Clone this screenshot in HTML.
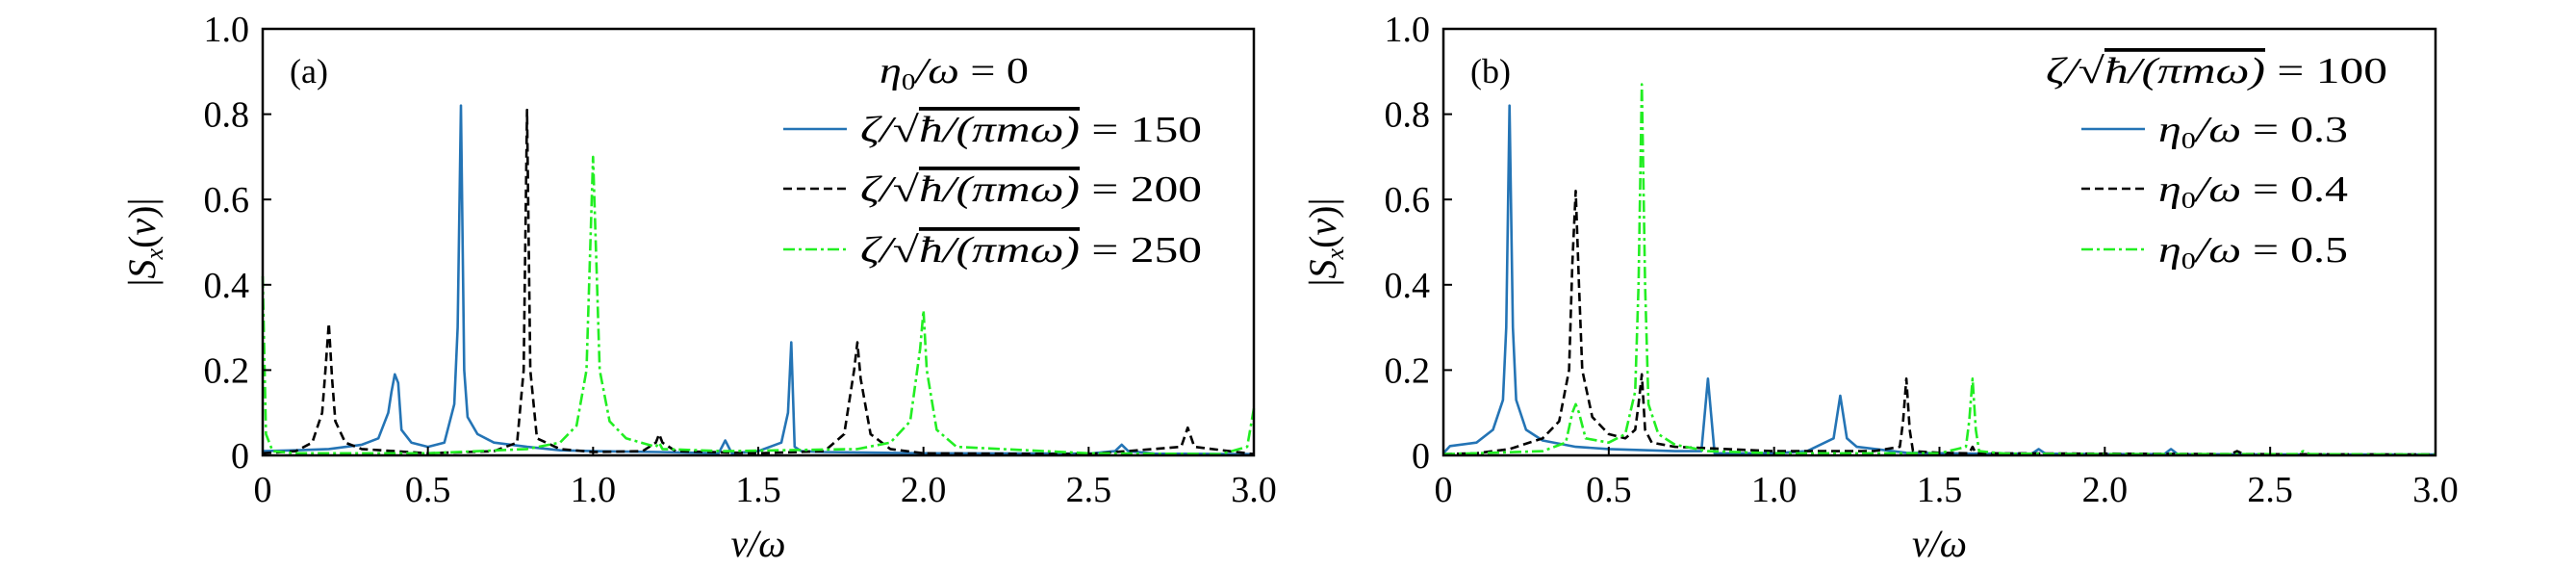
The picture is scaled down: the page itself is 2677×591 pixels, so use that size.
<!DOCTYPE html>
<html><head><meta charset="utf-8"><style>
html,body{margin:0;padding:0;background:#fff;}
svg{display:block;font-family:"Liberation Serif","DejaVu Serif",serif;}
</style></head><body>
<svg id="fig" width="2677" height="591" viewBox="0 0 2677 591" xmlns="http://www.w3.org/2000/svg"></svg>
<script>
// ---- data: panel (a) ----
const xTicks = [0, 0.5, 1.0, 1.5, 2.0, 2.5, 3.0];
const xTickLabels = ["0", "0.5", "1.0", "1.5", "2.0", "2.5", "3.0"];
const yTicks = [0, 0.2, 0.4, 0.6, 0.8, 1.0];
const yTickLabels = ["0", "0.2", "0.4", "0.6", "0.8", "1.0"];

const aBlueX = [0,0.1,0.2,0.3,0.35,0.38,0.39,0.4,0.41,0.42,0.45,0.5,0.55,0.58,0.59,0.6,0.61,0.62,0.65,0.7,0.8,0.9,1.0,1.2,1.38,1.4,1.42,1.5,1.57,1.59,1.6,1.61,1.63,1.7,2.0,2.5,2.58,2.6,2.62,2.7,3.0];
const aBlueY = [0.01,0.012,0.015,0.025,0.04,0.1,0.15,0.19,0.17,0.06,0.03,0.02,0.03,0.12,0.3,0.82,0.2,0.09,0.05,0.03,0.02,0.012,0.01,0.008,0.005,0.035,0.005,0.01,0.03,0.1,0.265,0.02,0.01,0.008,0.005,0.004,0.01,0.025,0.01,0.004,0.003];
const aBlackX = [0,0.1,0.15,0.18,0.19,0.2,0.21,0.22,0.25,0.3,0.5,0.7,0.77,0.79,0.8,0.81,0.83,0.9,1.0,1.15,1.19,1.2,1.21,1.25,1.5,1.7,1.76,1.79,1.8,1.81,1.84,1.9,2.0,2.5,2.78,2.8,2.82,3.0];
const aBlackY = [0.005,0.01,0.03,0.1,0.2,0.31,0.18,0.08,0.03,0.015,0.005,0.01,0.03,0.2,0.81,0.2,0.04,0.015,0.008,0.01,0.03,0.05,0.03,0.01,0.005,0.01,0.05,0.2,0.265,0.18,0.05,0.015,0.005,0.003,0.02,0.065,0.02,0.003];
const aGreenX = [0,0.01,0.03,0.1,0.5,0.8,0.9,0.95,0.98,0.99,1.0,1.01,1.02,1.05,1.1,1.19,1.2,1.21,1.4,1.8,1.9,1.96,1.99,2.0,2.01,2.04,2.1,2.5,2.9,2.98,3.0];
const aGreenY = [0.42,0.05,0.01,0.005,0.005,0.015,0.03,0.07,0.2,0.45,0.70,0.45,0.2,0.08,0.04,0.02,0.03,0.015,0.01,0.015,0.03,0.08,0.25,0.34,0.2,0.06,0.02,0.005,0.003,0.02,0.11];

// ---- data: panel (b) ----
const bBlueX = [0,0.02,0.1,0.15,0.18,0.19,0.2,0.21,0.22,0.25,0.3,0.4,0.5,0.7,0.78,0.8,0.82,1.0,1.1,1.18,1.2,1.22,1.25,1.4,1.6,1.78,1.8,1.82,2.0,2.18,2.2,2.22,2.6,3.0];
const bBlueY = [0.005,0.022,0.03,0.06,0.13,0.3,0.82,0.3,0.13,0.06,0.035,0.02,0.015,0.01,0.01,0.18,0.005,0.005,0.01,0.04,0.14,0.04,0.02,0.006,0.004,0.004,0.015,0.004,0.003,0.003,0.015,0.003,0.002,0.002];
const bBlackX = [0,0.1,0.2,0.3,0.35,0.38,0.39,0.4,0.41,0.42,0.45,0.5,0.55,0.58,0.59,0.6,0.61,0.63,0.7,1.0,1.3,1.38,1.39,1.4,1.41,1.42,1.5,1.59,1.6,1.61,2.0,2.38,2.4,2.42,3.0];
const bBlackY = [0.003,0.005,0.015,0.04,0.08,0.2,0.45,0.62,0.4,0.2,0.09,0.05,0.04,0.06,0.12,0.19,0.06,0.03,0.02,0.01,0.01,0.02,0.08,0.18,0.06,0.01,0.006,0.005,0.02,0.005,0.004,0.003,0.01,0.003,0.002];
const bGreenX = [0,0.1,0.3,0.37,0.39,0.4,0.41,0.43,0.5,0.55,0.58,0.59,0.6,0.61,0.62,0.65,0.7,0.8,1.0,1.4,1.5,1.58,1.59,1.6,1.61,1.62,1.7,2.0,2.58,2.6,2.62,3.0];
const bGreenY = [0.003,0.005,0.01,0.03,0.1,0.12,0.1,0.04,0.03,0.05,0.15,0.4,0.87,0.4,0.12,0.05,0.025,0.01,0.005,0.005,0.005,0.02,0.08,0.18,0.06,0.01,0.004,0.003,0.003,0.01,0.003,0.002];

const NS = "http://www.w3.org/2000/svg";
const svg = document.getElementById("fig");
const BLUE = "#2474b5", BLACK = "#000", GREEN = "#22ee22";
const STYLES = {solid:"", dashed:"9,5", dashdot:"12,4,3,4"};

function mk(tag, attrs, parent){
  const e = document.createElementNS(NS, tag);
  for (const k in attrs) e.setAttribute(k, attrs[k]);
  (parent||svg).appendChild(e);
  return e;
}

function panel(id, L, R, T, B, series, tag, legendTitle, titleW, legendLabels, labelW, legX, titleX){
  const g = mk("g", {});
  
  
  const sx = v => L + (v / 3.0) * (R - L);
  const sy = v => B - v * (B - T);
  series.forEach((s, i) => {
    let d = "";
    s.x.forEach((xv, j) => { d += (j ? "L" : "M") + sx(xv).toFixed(1) + "," + sy(s.y[j]).toFixed(1); });
    const p = mk("path", {d: d, fill: "none", stroke: s.color, "stroke-width": 2.6, "stroke-dasharray": STYLES[s.style], "stroke-linejoin": "round"}, g);
    
    
  });
  const fr = mk("rect", {x: L, y: T, width: R - L, height: B - T, fill: "none", stroke: "#000", "stroke-width": 2.5}, g);
  
  
  xTicks.forEach((v, i) => {
    mk("line", {x1: sx(v), x2: sx(v), y1: B, y2: B - 9, stroke: "#000", "stroke-width": 2}, g);
    const t = mk("text", {x: sx(v), y: B + 48, "text-anchor": "middle", "font-size": 38}, g);
    t.textContent = xTickLabels[i];
    
    
  });
  yTicks.forEach((v, i) => {
    mk("line", {x1: L, x2: L + 9, y1: sy(v), y2: sy(v), stroke: "#000", "stroke-width": 2}, g);
    const t = mk("text", {x: L - 14, y: sy(v) + 13, "text-anchor": "end", "font-size": 38}, g);
    t.textContent = yTickLabels[i];
    
    
  });
  const xt = mk("text", {x: (L + R) / 2, y: 578, "text-anchor": "middle", "font-size": 40, "font-style": "italic"}, g);
  xt.textContent = "ν/ω";
  
  
  const yt = mk("text", {x: 0, y: 0, "text-anchor": "middle", "font-size": 40, transform: "translate(" + (L - 112) + "," + ((T + B) / 2) + ") rotate(-90)"}, g);
  yt.innerHTML = '|<tspan font-style="italic">S</tspan><tspan font-style="italic" font-size="26" dy="8">x</tspan><tspan dy="-8">(</tspan><tspan font-style="italic">ν</tspan>)|';
  
  
  const pt = mk("text", {x: L + 28, y: 86, "font-size": 36}, g);
  pt.textContent = tag;
  
  
  const lg = mk("g", {}, g);
  
  
  const lt = mk("text", {x: titleX, y: 86, "font-size": 38, "font-style": "italic", textLength: titleW, lengthAdjust: "spacingAndGlyphs"}, lg);
  lt.innerHTML = legendTitle;
  const rows = [134, 196, 259];
  series.forEach((s, i) => {
    const e = mk("g", {}, lg);
    
    
    mk("line", {x1: legX, x2: legX + 66, y1: rows[i], y2: rows[i], stroke: s.color, "stroke-width": 2.6, "stroke-dasharray": STYLES[s.style]}, e);
    const tx = mk("text", {x: legX + 80, y: rows[i] + 13, "font-size": 38, "font-style": "italic", textLength: labelW, lengthAdjust: "spacingAndGlyphs"}, e);
    tx.innerHTML = legendLabels[i];
  });
}

const zeta = v => 'ζ/√<tspan text-decoration="overline">ħ/(πmω)</tspan><tspan font-style="normal"> = ' + v + '</tspan>';
const eta = v => 'η<tspan font-size="24" dy="7" font-style="normal">0</tspan><tspan dy="-7">/ω</tspan><tspan font-style="normal"> = ' + v + '</tspan>';

panel("a", 273, 1303, 30, 473,
  [{name:"zeta150", x:aBlueX, y:aBlueY, color:BLUE, style:"solid"},
   {name:"zeta200", x:aBlackX, y:aBlackY, color:BLACK, style:"dashed"},
   {name:"zeta250", x:aGreenX, y:aGreenY, color:GREEN, style:"dashdot"}],
  "(a)", eta("0"), 155, [zeta("150"), zeta("200"), zeta("250")], 355, 814, 914);

panel("b", 1500, 2531, 30, 473,
  [{name:"eta03", x:bBlueX, y:bBlueY, color:BLUE, style:"solid"},
   {name:"eta04", x:bBlackX, y:bBlackY, color:BLACK, style:"dashed"},
   {name:"eta05", x:bGreenX, y:bGreenY, color:GREEN, style:"dashdot"}],
  "(b)", zeta("100"), 355, [eta("0.3"), eta("0.4"), eta("0.5")], 197, 2163, 2126);
</script>
</body></html>
